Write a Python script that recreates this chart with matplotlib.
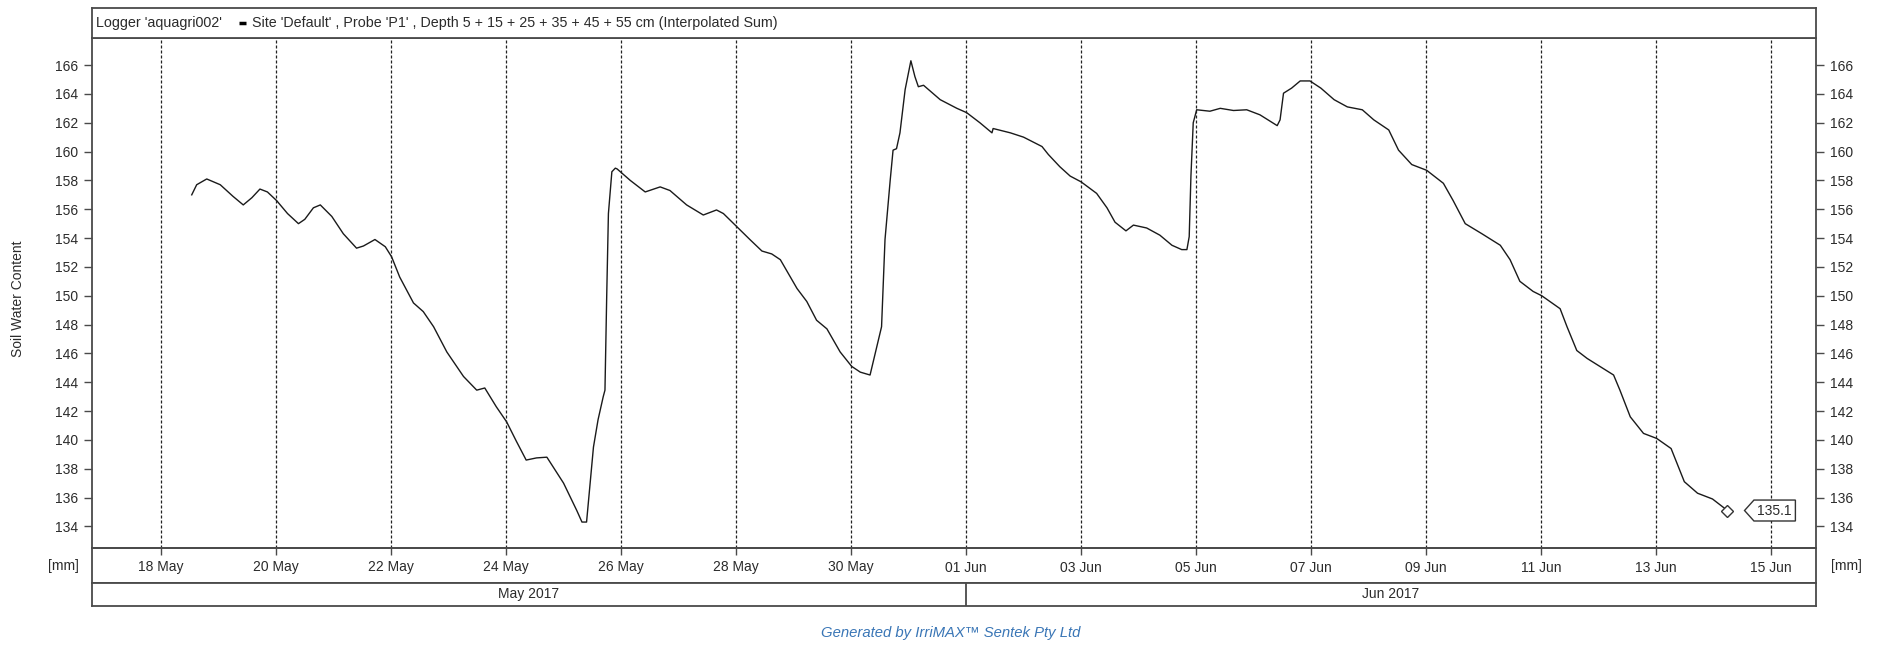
import matplotlib
matplotlib.use("Agg")
import matplotlib.pyplot as plt
from matplotlib.path import Path
from matplotlib.lines import Line2D
import pandas as pd

# ---------------- data ----------------
base_date = "2017-05-18"
day_offsets = [
    0.534, 0.62, 0.795, 1.03, 1.25, 1.43, 1.58, 1.72, 1.85, 2.01, 2.20, 2.39, 2.50, 2.65,
    2.77, 2.97, 3.17, 3.40, 3.52, 3.72, 3.90, 4.01, 4.15, 4.39, 4.56, 4.74, 4.97, 5.26,
    5.49, 5.63, 5.83, 6.01, 6.18, 6.35, 6.53, 6.71, 7.00, 7.23, 7.32, 7.40, 7.52, 7.60,
    7.69, 7.72, 7.75, 7.78, 7.84, 7.90, 7.93, 8.16, 8.42, 8.68, 8.85, 9.14, 9.43, 9.66,
    9.78, 10.01, 10.24, 10.45, 10.62, 10.77, 11.06, 11.23, 11.40, 11.58, 11.81, 12.01,
    12.16, 12.33, 12.39, 12.53, 12.59, 12.68, 12.73, 12.79, 12.85, 12.94, 13.04, 13.11,
    13.17, 13.26, 13.55, 13.84, 14.01, 14.24, 14.45, 14.47, 14.77, 15.00, 15.32, 15.43,
    15.63, 15.81, 16.00, 16.27, 16.45, 16.59, 16.78, 16.91, 17.14, 17.37, 17.58, 17.75,
    17.84, 17.88, 17.91, 17.95, 18.01, 18.24, 18.42, 18.65, 18.88, 19.11, 19.41, 19.46,
    19.52, 19.66, 19.81, 19.98, 20.17, 20.40, 20.63, 20.89, 21.09, 21.35, 21.52, 21.75,
    22.01, 22.30, 22.47, 22.68, 22.97, 23.29, 23.46, 23.63, 23.86, 24.01, 24.33, 24.45,
    24.62, 24.80, 25.26, 25.37, 25.55, 25.78, 26.01, 26.26, 26.49, 26.72, 26.98, 27.24,
]
swc_values = [
    157.0, 157.7, 158.1, 157.7, 156.9, 156.3, 156.8, 157.4, 157.2, 156.6, 155.7, 155.0, 155.3, 156.1,
    156.3, 155.5, 154.3, 153.3, 153.45, 153.9, 153.4, 152.7, 151.3, 149.5, 148.9, 147.85, 146.1, 144.4,
    143.45, 143.6, 142.3, 141.25, 139.9, 138.6, 138.75, 138.8, 137.0, 135.1, 134.3, 134.3, 139.5, 141.4,
    143.0, 143.45, 149.9, 155.7, 158.6, 158.85, 158.8, 158.0, 157.2, 157.55, 157.3, 156.3, 155.6, 155.95,
    155.7, 154.8, 153.9, 153.1, 152.9, 152.5, 150.5, 149.6, 148.3, 147.7, 146.1, 145.1,
    144.7, 144.5, 145.5, 147.85, 153.9, 158.0, 160.1, 160.2, 161.3, 164.3, 166.3, 165.2,
    164.5, 164.6, 163.6, 163.0, 162.7, 162.0, 161.3, 161.6, 161.3, 161.0, 160.35, 159.8,
    158.95, 158.3, 157.9, 157.1, 156.1, 155.1, 154.5, 154.9, 154.7, 154.2, 153.5, 153.2,
    153.2, 154.1, 158.3, 162.0, 162.9, 162.8, 163.0, 162.85, 162.9, 162.55, 161.8, 162.2,
    164.05, 164.4, 164.9, 164.9, 164.4, 163.6, 163.1, 162.9, 162.2, 161.5, 160.1, 159.1,
    158.7, 157.8, 156.6, 155.0, 154.3, 153.5, 152.5, 151.0, 150.3, 150.0, 149.1, 147.85,
    146.2, 145.65, 144.5, 143.45, 141.6, 140.45, 140.1, 139.4, 137.1, 136.3, 135.9, 135.1,
]
last_value_label = "135.1"
tick_start, tick_end = "2017-05-18", "2017-06-15"
x_range = ["2017-05-16 19:04", "2017-06-15 18:43"]
month_labels = ["May 2017", "Jun 2017"]
month_edges = ["2017-05-16 19:04", "2017-06-01", "2017-06-15 18:43"]
y_ticks = list(range(134, 167, 2))
y_range = (132.5, 167.9)
header_logger = "Logger 'aquagri002'"
header_series = "Site 'Default' , Probe 'P1' , Depth 5 + 15 + 25 + 35 + 45 + 55 cm (Interpolated Sum)"
y_label = "Soil Water Content"
unit_label = "[mm]"
footer = "Generated by IrriMAX\u2122 Sentek Pty Ltd"

# ---------------- style ----------------
plt.rcParams['font.family'] = ['Liberation Sans', 'DejaVu Sans']
plt.rcParams['font.size'] = 10
FRAME = '#4a4a4a'
TXT = '#2b2b2b'

W, H = 1877, 645
fig = plt.figure(figsize=(W / 100, H / 100), dpi=100)
fig.patch.set_facecolor('white')

def fx(px):
    return px / W

def fy(py):
    return 1 - py / H

L, R = 91.7, 1816.0
T_HEAD, B_HEAD = 8.3, 37.7
B_PLOT, B_DATE, B_MONTH = 548.0, 582.7, 606.0

times = (pd.Timestamp(base_date) + pd.to_timedelta(day_offsets, unit='D')).to_pydatetime()
tick_dates = pd.date_range(tick_start, tick_end, freq='2D').to_pydatetime()
tick_labels = [d.strftime('%d %b') for d in tick_dates]
xl = pd.Timestamp(x_range[0]).to_pydatetime()
xr = pd.Timestamp(x_range[1]).to_pydatetime()

def style_frame(a):
    for s in a.spines.values():
        s.set_color(FRAME)
        s.set_linewidth(1.3)

# main plot
ax = fig.add_axes([fx(L), fy(B_PLOT), fx(R) - fx(L), (B_PLOT - B_HEAD) / H])
ax.plot(times, swc_values, color='#1a1a1a', lw=1.0, zorder=3)
ax.plot(times[-1], swc_values[-1], marker='D', mfc='white', mec='#333333',
        ms=6.5, mew=1.0, zorder=4, linestyle='none')
ax.set_xlim(xl, xr)
ax.set_ylim(*y_range)
ax.set_yticks(y_ticks)
ax.set_xticks(tick_dates)
ax.set_xticklabels(tick_labels)
ax.grid(axis='x', linestyle=(0, (2.4, 1.6)), color='#222222', lw=0.9)
ax.tick_params(axis='x', direction='out', length=5, width=1.0, pad=4,
               labelsize=10, colors=FRAME, labelcolor=TXT)
ax.tick_params(axis='y', direction='out', length=6, width=1.0, pad=4,
               labelsize=10, colors=FRAME, labelcolor=TXT,
               left=True, right=True, labelleft=True, labelright=True)
style_frame(ax)


def pentagon(x0, y0, width, height, mutation_size):
    pad = 0.25 * mutation_size
    x0 -= pad
    y0 -= pad
    w = width + 2 * pad
    h = height + 2 * pad
    tip = h * 0.45
    verts = [(x0 - tip, y0 + h / 2), (x0, y0), (x0 + w, y0), (x0 + w, y0 + h),
             (x0, y0 + h), (x0 - tip, y0 + h / 2)]
    return Path(verts, closed=True)

ax.annotate(last_value_label, xy=(times[-1], swc_values[-1]), xytext=(34, 0),
            textcoords='offset points', ha='center', va='center', fontsize=10,
            color=TXT,
            bbox=dict(boxstyle=pentagon, fc='white', ec='#333333', lw=1.0), zorder=5)

# header
axh = fig.add_axes([fx(L), fy(B_HEAD), fx(R) - fx(L), (B_HEAD - T_HEAD) / H])
axh.set_xticks([])
axh.set_yticks([])
style_frame(axh)
yc = (T_HEAD + B_HEAD) / 2
fig.text(fx(96), fy(yc), header_logger, va='center', ha='left', fontsize=10.4, color=TXT)
fig.add_artist(Line2D([fx(239), fx(246)], [fy(yc), fy(yc)], transform=fig.transFigure,
                      color='black', lw=2.5, solid_capstyle='butt'))
fig.text(fx(252), fy(yc), header_series, va='center', ha='left', fontsize=10.3, color=TXT)

# date band
axd = fig.add_axes([fx(L), fy(B_DATE), fx(R) - fx(L), (B_DATE - B_PLOT) / H])
axd.set_xticks([])
axd.set_yticks([])
axd.patch.set_alpha(0)
style_frame(axd)

# month band
axm = fig.add_axes([fx(L), fy(B_MONTH), fx(R) - fx(L), (B_MONTH - B_DATE) / H])
axm.set_xlim(xl, xr)
axm.set_ylim(0, 1)
axm.set_xticks([])
axm.set_yticks([])
style_frame(axm)
edges = [pd.Timestamp(e) for e in month_edges]
for e in edges[1:-1]:
    axm.axvline(e.to_pydatetime(), color=FRAME, lw=1.3)
for lab, a, b in zip(month_labels, edges[:-1], edges[1:]):
    mid = (a + (b - a) / 2).to_pydatetime()
    axm.text(mid, 0.5, lab, ha='center', va='center', fontsize=10, color=TXT)

# side labels
fig.text(fx(18), fy(299), y_label, rotation=90, ha='center', va='center', fontsize=10, color=TXT)
fig.text(fx(79), fy(566), unit_label, ha='right', va='center', fontsize=10, color=TXT)
fig.text(fx(1831), fy(566), unit_label, ha='left', va='center', fontsize=10, color=TXT)

# footer
fig.text(fx(951), fy(633), footer, ha='center', va='center', fontsize=10.7,
         style='italic', color='#3a76b6')

fig.savefig('out.png', dpi=100, facecolor='white')
